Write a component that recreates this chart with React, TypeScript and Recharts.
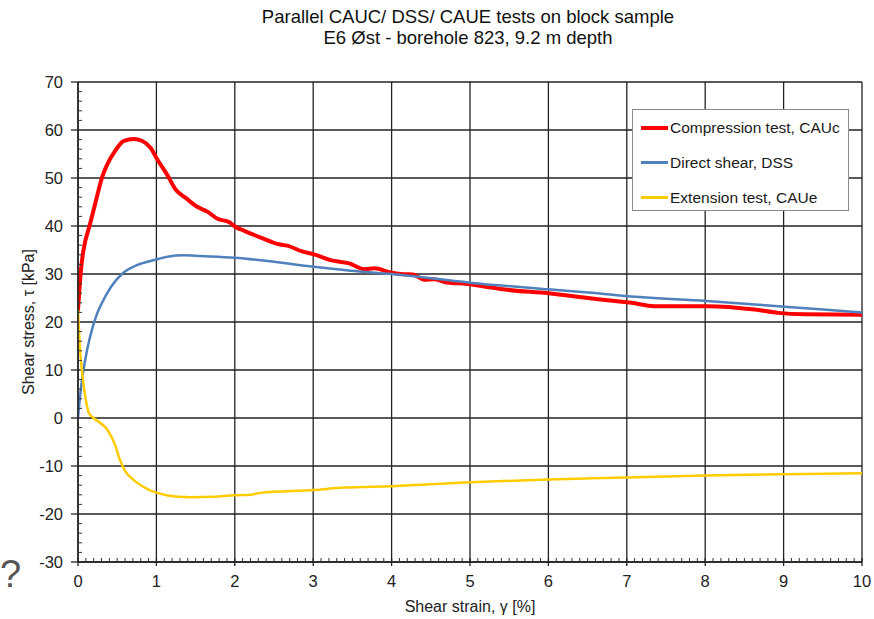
import React from 'react';
import { LineChart, Line, XAxis, YAxis, CartesianGrid, Legend } from 'recharts';

const FONT = '"Liberation Sans", Arial, Helvetica, sans-serif';

// Compression test, CAUc
const cauStrain = [0, 0.04, 0.07, 0.15, 0.22, 0.31, 0.37, 0.48, 0.58, 0.71, 0.82, 0.93, 1.01, 1.14, 1.25, 1.37, 1.52, 1.65, 1.78, 1.93, 2.01, 2.12, 2.33, 2.56, 2.67, 2.86, 3.01, 3.22, 3.46, 3.65, 3.78, 3.99, 4.12, 4.27, 4.42, 4.54, 4.69, 4.97, 5.18, 5.48, 6.0, 6.55, 7.06, 7.35, 8.02, 8.63, 8.93, 9.27, 10];
const cauStress = [22.5, 31.2, 35, 40.2, 44.7, 50.3, 52.7, 55.8, 57.7, 58.1, 57.7, 56.2, 53.9, 50.6, 47.5, 45.9, 44, 43, 41.5, 40.8, 39.8, 39, 37.6, 36.2, 35.9, 34.7, 34.1, 32.9, 32.2, 31.0, 31.2, 30.3, 30.0, 29.9, 28.8, 28.9, 28.3, 27.9, 27.4, 26.7, 26.0, 24.9, 24.0, 23.3, 23.3, 22.6, 21.9, 21.6, 21.5];

// Direct shear, DSS
const dssStrain = [0, 0.03, 0.07, 0.12, 0.18, 0.24, 0.3, 0.42, 0.56, 0.76, 0.97, 1.14, 1.35, 1.56, 2.0, 2.42, 3.01, 3.48, 4.0, 5.0, 6.0, 6.55, 7.06, 8.02, 9.01, 10];
const dssStress = [0, 5.1, 10, 14.5, 18.5, 21.6, 23.8, 27.3, 30.0, 31.9, 32.9, 33.6, 33.9, 33.75, 33.4, 32.7, 31.5, 30.7, 30.0, 28.2, 26.8, 26.1, 25.3, 24.4, 23.2, 22.0];

// Extension test, CAUe
const caueStrain = [0, 0.02, 0.05, 0.1, 0.14, 0.2, 0.39, 0.47, 0.53, 0.6, 0.7, 0.8, 0.9, 1.01, 1.27, 1.44, 1.73, 2.0, 2.2, 2.33, 3.01, 3.39, 4.01, 5.0, 6.0, 7.0, 8.0, 9.0, 10];
const caueStress = [22.5, 15.6, 10, 3.75, 1, 0, -2.85, -5.5, -8.5, -11.0, -12.8, -14.0, -14.9, -15.6, -16.4, -16.5, -16.4, -16.1, -16.0, -15.6, -15.0, -14.5, -14.2, -13.4, -12.8, -12.4, -12.0, -11.7, -11.5];

const seriesNames = ['Compression test, CAUc', 'Direct shear, DSS', 'Extension test, CAUe'];
const seriesColors = ['#FF0000', '#4F81BD', '#FFCC00'];
const seriesWidths = [4, 2.5, 2.5];

const xMajorTicks = [0, 1, 2, 3, 4, 5, 6, 7, 8, 9, 10];
const yMajorTicks = [-30, -20, -10, 0, 10, 20, 30, 40, 50, 60, 70];
const xMinorTicks = Array.from({ length: 101 }, (_, i) => i / 10);
const yMinorTicks = Array.from({ length: 51 }, (_, i) => -30 + i * 2);

const titleLines = ['Parallel CAUC/ DSS/ CAUE tests on block sample', 'E6 Øst - borehole 823, 9.2 m depth'];
const xLabel = 'Shear strain, γ [%]';
const yLabel = 'Shear stress, τ [kPa]';

const zip = (xs: number[], ys: number[]) => xs.map((x, i) => ({ strain: x, stress: ys[i] }));

const isMajor = (v: number, step: number) => Math.abs(v / step - Math.round(v / step)) < 1e-6;

const XTick = (props: any) => {
  const { x, y, payload } = props;
  const v = payload.value as number;
  const major = isMajor(v, 1);
  return (
    <g>
      {major ? (
        <line x1={x} y1={y - 4} x2={x} y2={y + 4} stroke="#222" strokeWidth={1.3} />
      ) : (
        <line x1={x} y1={y - 4} x2={x} y2={y} stroke="#333" strokeWidth={1} />
      )}
      {major && (
        <text x={x} y={y + 25} textAnchor="middle" fontSize={16.5} fill="#222" fontFamily={FONT}>
          {Math.round(v)}
        </text>
      )}
    </g>
  );
};

const YTick = (props: any) => {
  const { x, y, payload } = props;
  const v = payload.value as number;
  const major = isMajor(v, 10);
  return (
    <g>
      {major ? (
        <line x1={x - 7} y1={y} x2={x} y2={y} stroke="#222" strokeWidth={1.3} />
      ) : (
        <line x1={x} y1={y} x2={x + 4} y2={y} stroke="#333" strokeWidth={1} />
      )}
      {major && (
        <text x={x - 15} y={y + 6} textAnchor="end" fontSize={16.5} fill="#222" fontFamily={FONT}>
          {Math.round(v)}
        </text>
      )}
    </g>
  );
};

const renderLegend = (props: any) => {
  const payload = props.payload || [];
  return (
    <div
      style={{
        width: 217,
        height: 102,
        boxSizing: 'border-box',
        border: '1px solid #8a8a8a',
        background: '#fff',
        fontFamily: FONT,
        fontSize: 15.5,
        color: '#1a1a1a',
      }}
    >
      {payload.map((entry: any, i: number) => (
        <div key={i} style={{ height: 35, display: 'flex', alignItems: 'center' }}>
          <div
            style={{
              marginLeft: 8,
              width: 27,
              height: seriesWidths[i] ?? 2.5,
              background: entry.color,
            }}
          />
          <span style={{ marginLeft: 2, whiteSpace: 'nowrap' }}>{entry.value}</span>
        </div>
      ))}
    </div>
  );
};

export default function App() {
  const cauData = zip(cauStrain, cauStress);
  const dssData = zip(dssStrain, dssStress);
  const caueData = zip(caueStrain, caueStress);
  const datasets = [cauData, dssData, caueData];

  return (
    <div style={{ position: 'absolute', left: 0, top: 0, width: 874, height: 619, background: '#fff', fontFamily: FONT }}>
      <LineChart width={874} height={619} margin={{ top: 82, right: 12, left: 0, bottom: 0 }}>
        <CartesianGrid
          stroke="#222"
          strokeWidth={1.3}
          horizontalValues={yMajorTicks}
          verticalValues={xMajorTicks}
        />
        <XAxis
          dataKey="strain"
          type="number"
          domain={[0, 10]}
          ticks={xMinorTicks}
          interval={0}
          allowDataOverflow
          tickLine={false}
          tickSize={0}
          tickMargin={0}
          height={57}
          axisLine={{ stroke: '#222', strokeWidth: 1.5 }}
          tick={XTick}
          label={{
            content: (p: any) => {
              const vb = p.viewBox || { x: 78, width: 784, y: 562, height: 57 };
              return (
                <text x={vb.x + vb.width / 2} y={612} textAnchor="middle" fontSize={16} fill="#222" fontFamily={FONT}>
                  {xLabel}
                </text>
              );
            },
          }}
        />
        <YAxis
          type="number"
          domain={[-30, 70]}
          ticks={yMinorTicks}
          interval={0}
          allowDataOverflow
          tickLine={false}
          tickSize={0}
          tickMargin={0}
          width={78}
          axisLine={{ stroke: '#222', strokeWidth: 1.5 }}
          tick={YTick}
          label={{
            content: (p: any) => {
              const vb = p.viewBox || { x: 0, width: 78, y: 82, height: 480 };
              const cy = vb.y + vb.height / 2;
              return (
                <text
                  transform={`translate(28, ${cy}) rotate(-90)`}
                  textAnchor="middle"
                  dominantBaseline="central"
                  fontSize={16}
                  fill="#222"
                  fontFamily={FONT}
                >
                  {yLabel}
                </text>
              );
            },
          }}
        />
        {datasets.map((d, i) => (
          <Line
            key={seriesNames[i]}
            data={d}
            dataKey="stress"
            name={seriesNames[i]}
            type="monotone"
            stroke={seriesColors[i]}
            strokeWidth={seriesWidths[i]}
            strokeLinejoin="round"
            strokeLinecap="round"
            dot={false}
            activeDot={false}
            isAnimationActive={false}
          />
        ))}
        <Legend
          layout="horizontal"
          verticalAlign="middle"
          align="center"
          content={renderLegend}
          wrapperStyle={{ position: 'absolute', left: 632, top: 109, width: 217, height: 102 }}
        />
      </LineChart>
      <div
        style={{
          position: 'absolute',
          left: 168,
          top: 6,
          width: 600,
          textAlign: 'center',
          fontSize: 18.5,
          lineHeight: '21px',
          color: '#111',
        }}
      >
        <div>{titleLines[0]}</div>
        <div>{titleLines[1]}</div>
      </div>
      <div style={{ position: 'absolute', left: 0, top: 552, fontSize: 38, lineHeight: '44px', color: '#555' }}>?</div>
    </div>
  );
}
